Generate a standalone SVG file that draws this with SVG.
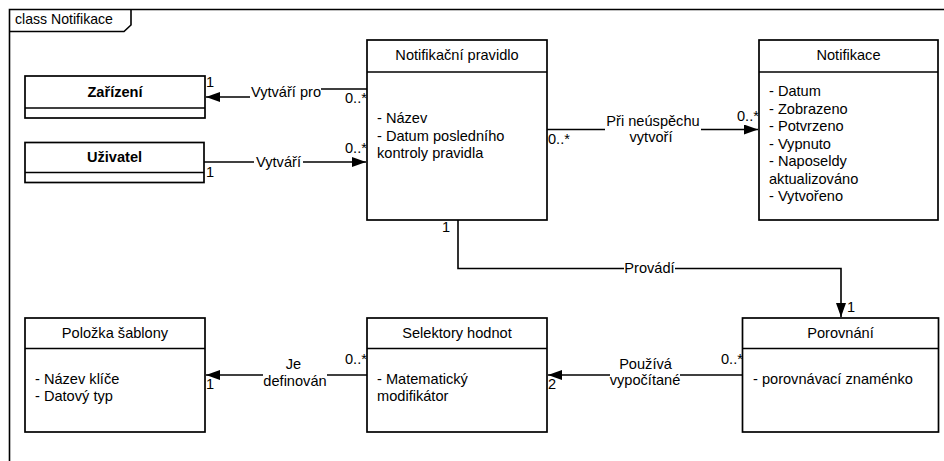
<svg xmlns="http://www.w3.org/2000/svg" width="944" height="461" viewBox="0 0 944 461">
  <style>
    text { font-family: "Liberation Sans", Arial, sans-serif; font-size: 14.6px; fill: #000; }
    .box { fill: #fff; stroke: #000; stroke-width: 1.7; }
    .div { stroke: #000; stroke-width: 1.7; fill: none; }
    .hd { text-anchor: middle; }
    .bold { font-weight: bold; }
    .edge { fill: none; stroke: #000; stroke-width: 1.6; }
    .lbl { text-anchor: middle; }
    .bg { fill: #fff; }
    .frame { fill: none; stroke: #000; stroke-width: 1.6; }
  </style>
  <defs>
    <marker id="arrow" markerUnits="userSpaceOnUse" markerWidth="15" markerHeight="11" refX="14" refY="5" orient="auto">
      <path d="M0,0 L14,5 L0,10 z" fill="#000"/>
    </marker>
  </defs>

  <rect width="944" height="461" fill="#fff"/>

  <!-- package frame -->
  <g id="frame">
    <path class="frame" d="M9.5,461 V9.5 H944"/>
    <path class="frame" d="M9.5,31.5 H124 L131,25 V9.5"/>
    <text x="15" y="23.5" style="font-size:14.1px">class Notifikace</text>
  </g>

  <!-- connectors -->
  <g id="connectors">
    <!-- Notifikační pravidlo -> Zařízení -->
    <path class="edge" d="M367,89 H290 V97 H206" marker-end="url(#arrow)"/>
    <rect class="bg" x="250" y="83" width="71" height="18"/>
    <text class="lbl" x="286" y="96.5">Vytváří pro</text>
    <text x="206" y="87">1</text>
    <text x="345" y="103">0..*</text>

    <!-- Uživatel -> Notifikační pravidlo -->
    <path class="edge" d="M204,162 H366" marker-end="url(#arrow)"/>
    <rect class="bg" x="254" y="153" width="49" height="18"/>
    <text class="lbl" x="278.5" y="166.5">Vytváří</text>
    <text x="206" y="177">1</text>
    <text x="345" y="152.5">0..*</text>

    <!-- Notifikační pravidlo -> Notifikace -->
    <path class="edge" d="M547,129.5 H758" marker-end="url(#arrow)"/>
    <rect class="bg" x="605" y="112" width="96" height="34"/>
    <text class="lbl" x="653" y="126">Při neúspěchu</text>
    <text class="lbl" x="651" y="142">vytvoří</text>
    <text x="548" y="143.5">0..*</text>
    <text x="737" y="121">0..*</text>

    <!-- Notifikační pravidlo -> Porovnání -->
    <path class="edge" d="M458,220 V268.5 H841 V317" marker-end="url(#arrow)"/>
    <rect class="bg" x="624" y="259" width="51" height="18"/>
    <text class="lbl" x="649.5" y="272.5">Provádí</text>
    <text x="442" y="232">1</text>
    <text x="847" y="312">1</text>

    <!-- Porovnání -> Selektory hodnot -->
    <path class="edge" d="M742,375 H548" marker-end="url(#arrow)"/>
    <rect class="bg" x="610" y="355" width="70" height="34"/>
    <text class="lbl" x="645.5" y="368.5">Používá</text>
    <text class="lbl" x="645" y="385">vypočítané</text>
    <text x="548" y="389">2</text>
    <text x="721" y="364">0..*</text>

    <!-- Selektory hodnot -> Položka šablony -->
    <path class="edge" d="M367,375 H206" marker-end="url(#arrow)"/>
    <rect class="bg" x="263" y="355" width="64" height="34"/>
    <text class="lbl" x="293.5" y="368.5">Je</text>
    <text class="lbl" x="295" y="386">definován</text>
    <text x="206" y="389">1</text>
    <text x="345" y="364">0..*</text>
  </g>

  <!-- classes -->
  <g id="zarizeni">
    <rect class="box" x="25" y="76" width="180" height="42"/>
    <line class="div" x1="25" y1="108" x2="205" y2="108"/>
    <text class="hd bold" x="115" y="97">Zařízení</text>
  </g>

  <g id="uzivatel">
    <rect class="box" x="25" y="142.5" width="179" height="40"/>
    <line class="div" x1="25" y1="172.5" x2="204" y2="172.5"/>
    <text class="hd bold" x="114.5" y="162">Uživatel</text>
  </g>

  <g id="notifikacni-pravidlo">
    <rect class="box" x="367" y="40" width="180" height="180"/>
    <line class="div" x1="367" y1="72" x2="547" y2="72"/>
    <text class="hd" x="457" y="59.5">Notifikační pravidlo</text>
    <text x="377" y="123">- Název</text>
    <text x="377" y="140.5">- Datum posledního</text>
    <text x="377" y="158">kontroly pravidla</text>
  </g>

  <g id="notifikace">
    <rect class="box" x="759" y="40" width="179" height="180"/>
    <line class="div" x1="759" y1="72" x2="938" y2="72"/>
    <text class="hd" x="848.5" y="59.5">Notifikace</text>
    <text x="769" y="96">- Datum</text>
    <text x="769" y="113.5">- Zobrazeno</text>
    <text x="769" y="131">- Potvrzeno</text>
    <text x="769" y="148.5">- Vypnuto</text>
    <text x="769" y="166">- Naposeldy</text>
    <text x="769" y="183.5">aktualizováno</text>
    <text x="769" y="201">- Vytvořeno</text>
  </g>

  <g id="polozka-sablony">
    <rect class="box" x="25" y="318" width="180" height="114"/>
    <line class="div" x1="25" y1="348.5" x2="205" y2="348.5"/>
    <text class="hd" x="115" y="338">Položka šablony</text>
    <text x="35" y="383.5">- Název klíče</text>
    <text x="35" y="401">- Datový typ</text>
  </g>

  <g id="selektory-hodnot">
    <rect class="box" x="367" y="318" width="180" height="114"/>
    <line class="div" x1="367" y1="348.5" x2="547" y2="348.5"/>
    <text class="hd" x="457" y="338">Selektory hodnot</text>
    <text x="377" y="383.5">- Matematický</text>
    <text x="377" y="401">modifikátor</text>
  </g>

  <g id="porovnani">
    <rect class="box" x="742.5" y="318" width="196" height="114"/>
    <line class="div" x1="742.5" y1="348.5" x2="938.5" y2="348.5"/>
    <text class="hd" x="840.5" y="338">Porovnání</text>
    <text x="753" y="384">- porovnávací znaménko</text>
  </g>
</svg>
